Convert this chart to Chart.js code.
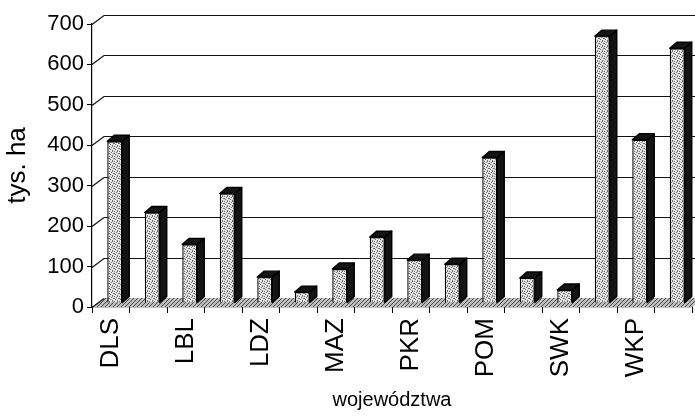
<!DOCTYPE html>
<html>
<head>
<meta charset="utf-8">
<script src="https://cdn.jsdelivr.net/npm/chart.js@4.4.1/dist/chart.umd.min.js"></script>
<style>
  html, body { margin: 0; padding: 0; background: #fff; }
</style>
</head>
<body>
<canvas id="chart" width="695" height="416"></canvas>
<script>
// data
const regions = ["DLS","KPM","LBL","LBS","LDZ","MLP","MAZ","OPO","PKR","PDL","POM","SLK","SWK","WMZ","WKP","ZPM"];
const areaThHa = [400, 224, 145, 271, 64, 27, 84, 163, 106, 96, 360, 62, 32, 660, 404, 630];
const yMin = 0, yMax = 700, yStep = 100;
const yTitle = "tys. ha";
const xTitle = "województwa";

// pseudo 3D look (Excel style)
const WALL = { dx: 12, dy: -9 };       // back wall offset
const BAR_SHIFT = { dx: 4, dy: -4 };   // bars sit in the middle of the floor
const BAR_DEPTH = { dx: 7, dy: -6 };

function mkPattern(size, base, dots, dotColor){
  const c = document.createElement("canvas");
  c.width = c.height = size;
  const g = c.getContext("2d");
  g.fillStyle = base; g.fillRect(0, 0, size, size);
  g.fillStyle = dotColor;
  dots.forEach(([x, y]) => g.fillRect(x, y, 1, 1));
  return document.getElementById("chart").getContext("2d").createPattern(c, "repeat");
}
const facePattern = mkPattern(5, "#e4e4e4", [[0,0],[2,1],[4,2],[1,3],[3,4],[3,0],[0,2]], "#707070");
const floorPattern = mkPattern(4, "#bdbdbd", [[0,3],[1,2],[2,1],[3,0]], "#4a4a4a");

const pseudo3d = {
  id: "pseudo3d",
  beforeDatasetsDraw(chart){
    const { ctx, chartArea: { left, right, bottom }, scales: { y } } = chart;
    ctx.save();
    // floor
    ctx.fillStyle = floorPattern;
    ctx.beginPath();
    ctx.moveTo(left, bottom);
    ctx.lineTo(left + WALL.dx, bottom + WALL.dy);
    ctx.lineTo(right + WALL.dx, bottom + WALL.dy);
    ctx.lineTo(right, bottom);
    ctx.closePath();
    ctx.fill();
    // back wall grid
    ctx.strokeStyle = "#111"; ctx.lineWidth = 1.2;
    y.ticks.forEach(t => {
      const py = Math.round(y.getPixelForValue(t.value)) + 0.5;
      ctx.beginPath();
      ctx.moveTo(left, py);
      ctx.lineTo(left + WALL.dx, py + WALL.dy);
      if (t.value > 0) ctx.lineTo(right + WALL.dx, py + WALL.dy);
      ctx.stroke();
    });
    ctx.restore();
    ctx.save();
    ctx.translate(BAR_SHIFT.dx, BAR_SHIFT.dy);
  },
  afterDatasetsDraw(chart){
    const ctx = chart.ctx;
    ctx.lineWidth = 1.4; ctx.strokeStyle = "#000"; ctx.lineJoin = "round";
    chart.getDatasetMeta(0).data.forEach(bar => {
      const { x, y, base, width } = bar.getProps(["x","y","base","width"], true);
      const l = x - width/2, r = x + width/2;
      ctx.fillStyle = "#141414";
      // right side
      ctx.beginPath();
      ctx.moveTo(r, y); ctx.lineTo(r + BAR_DEPTH.dx, y + BAR_DEPTH.dy);
      ctx.lineTo(r + BAR_DEPTH.dx, base + BAR_DEPTH.dy); ctx.lineTo(r, base);
      ctx.closePath(); ctx.fill(); ctx.stroke();
      // top
      ctx.beginPath();
      ctx.moveTo(l, y); ctx.lineTo(l + BAR_DEPTH.dx, y + BAR_DEPTH.dy);
      ctx.lineTo(r + BAR_DEPTH.dx, y + BAR_DEPTH.dy); ctx.lineTo(r, y);
      ctx.closePath(); ctx.fill(); ctx.stroke();
    });
    ctx.restore();
  }
};

const FONT = "'Liberation Sans', Arial, sans-serif";

new Chart(document.getElementById("chart"), {
  type: "bar",
  data: {
    labels: regions,
    datasets: [{
      data: areaThHa,
      backgroundColor: facePattern,
      borderColor: "#000",
      borderWidth: 1.4,
      categoryPercentage: 0.8,
      barPercentage: 0.5,
      clip: false
    }]
  },
  options: {
    responsive: false,
    animation: false,
    devicePixelRatio: 1,
    layout: { padding: { top: 24, right: 3, left: 0, bottom: 0 } },
    plugins: { legend: { display: false }, tooltip: { enabled: false } },
    scales: {
      x: {
        grid: { offset: true, drawOnChartArea: false, tickLength: 6, color: "#000" },
        border: { color: "#000", width: 1.2 },
        ticks: {
          autoSkip: false, minRotation: 90, maxRotation: 90, padding: 5, color: "#000",
          font: { family: FONT, size: 26 },
          callback(v, i){ return i % 2 === 0 ? this.getLabelForValue(v) : ""; }
        },
        title: { display: true, text: xTitle, color: "#000", font: { family: FONT, size: 20 }, padding: { top: 0, bottom: 4 } },
        afterFit(s){ s.height = 109; s.paddingLeft = 0; s.paddingRight = 0; }
      },
      y: {
        min: yMin, max: yMax,
        grid: { drawOnChartArea: false, tickLength: 5, color: "#000" },
        border: { color: "#000", width: 1.2 },
        ticks: { stepSize: yStep, padding: 3, color: "#000", font: { family: FONT, size: 22 } },
        title: { display: true, text: yTitle, color: "#000", font: { family: FONT, size: 26 }, padding: { top: 2, bottom: 0 } },
        afterFit(s){ s.width = 92; s.paddingTop = 0; s.paddingBottom = 0; }
      }
    }
  },
  plugins: [pseudo3d]
});
</script>
</body>
</html>
